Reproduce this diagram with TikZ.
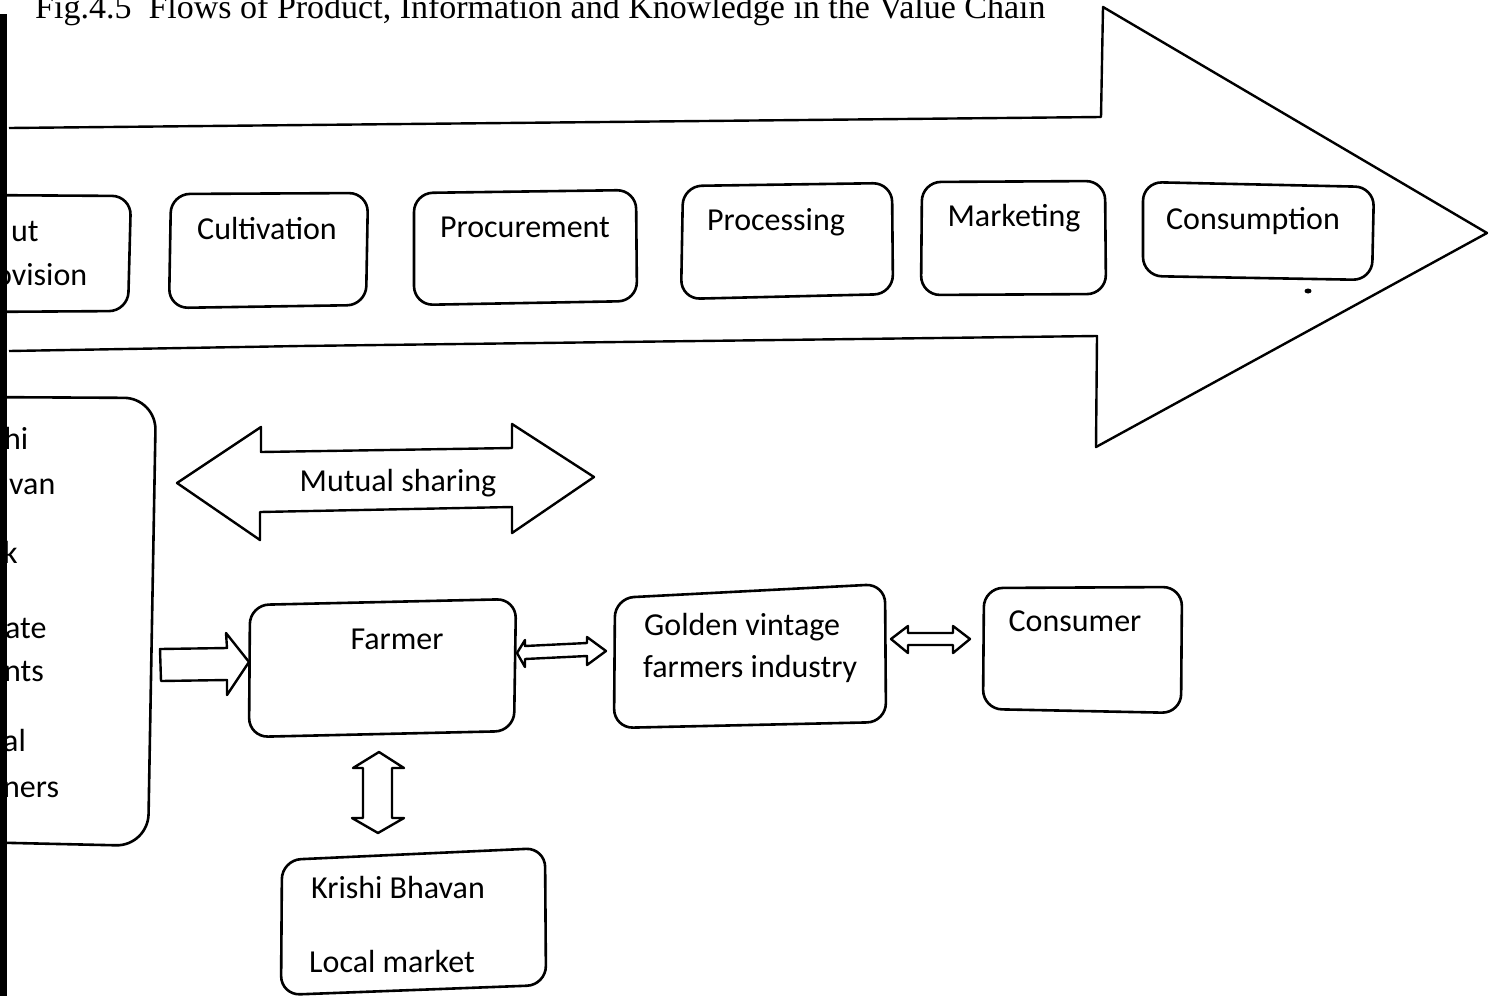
\documentclass[tikz,border=0pt]{standalone}
\usepackage{fontspec}
\setmainfont{Carlito}
\newfontfamily\captionserif{Liberation Serif}
\begin{document}
\begin{tikzpicture}[x=1pt,y=-1pt,line join=round,
  outline/.style={draw,line width=2.4pt},
  boxpath/.style={draw,line width=2.6pt,rounded corners=19pt},
  txt/.style={font=\fontsize{32}{38}\selectfont,inner sep=0pt,anchor=base},
  txtl/.style={txt,anchor=base west}]
\useasboundingbox (0,0) rectangle (1498,996);

% caption (partly outside the page at the top)
\node[inner sep=0pt,anchor=base west,font=\captionserif\fontsize{34}{40}\selectfont] (caption) at (35,18)
  {Fig.4.5\ \ Flows of Product, Information and Knowledge in the Value Chain};

% big value-chain arrow
\draw[outline] (9,128) -- (1101,117) -- (1103,7) -- (1487,233) -- (1096,447)
  -- (1097,336) -- (300,346) -- (9,351);

% stage boxes inside the arrow
\draw[boxpath] (-30,195) -- (131,196) -- (128,311) -- (-30,312);
\draw[boxpath] (171,194) -- (368,193) -- (366,305) -- (169,308) -- cycle;
\draw[boxpath] (414,193) -- (636,190) -- (637,301) -- (414,305) -- cycle;
\draw[boxpath] (683,186) -- (892,183) -- (893,294) -- (681,299) -- cycle;
\draw[boxpath] (922,182) -- (1105,181) -- (1106,294) -- (921,295) -- cycle;
\draw[boxpath] (1143,182) -- (1374,187) -- (1372,280) -- (1143,276) -- cycle;
\fill (1308,291) ellipse (3.5pt and 2.5pt);

\node[txtl] (inp1) at (11,241) {ut};
\node[txtl] (inp2) at (-5,285) {ovision};
\node[txt] (cult) at (267,239) {Cultivation};
\node[txt] (proc) at (525,237) {Procurement};
\node[txt] (prcs) at (776,230) {Processing};
\node[txt] (mkt) at (1014,226) {Marketing};
\node[txt] (cons) at (1253,229) {Consumption};

% sources box on the left
\draw[boxpath,rounded corners=32pt] (-30,397) -- (156,398) -- (148,846) -- (-30,842);
\node[txtl] (s1) at (4,449) {hi};
\node[txtl] (s2) at (9,494) {van};
\node[txtl] (s3) at (3,563) {k};
\node[txtl] (s4) at (5,638) {ate};
\node[txtl] (s5) at (4,681) {nts};
\node[txtl] (s6) at (3,751) {al};
\node[txtl] (s7) at (3,797) {ners};

% mutual sharing double arrow
\draw[outline] (177,483) -- (261,427) -- (261,452) -- (512,448) -- (512,424)
  -- (594,477) -- (512,533) -- (512,507) -- (260,512) -- (260,540) -- cycle;
\node[txt] (share) at (398,491) {Mutual sharing};

% lower chain boxes
\draw[boxpath] (250,605) -- (516,599) -- (514,731) -- (249,737) -- cycle;
\node[txt] (farmer) at (397,649) {Farmer};
\draw[boxpath] (615,598) -- (885,584) -- (886,722) -- (614,728) -- cycle;
\node[txtl] (gold1) at (644,635) {Golden vintage};
\node[txtl] (gold2) at (643,677) {farmers industry};
\draw[boxpath] (984,588) -- (1182,587) -- (1181,713) -- (983,709) -- cycle;
\node[txt] (consumer) at (1075,631) {Consumer};
\draw[boxpath] (282,860) -- (545,848) -- (546,985) -- (281,995) -- cycle;
\node[txtl] (kb) at (311,898) {Krishi Bhavan};
\node[txtl] (lm) at (309,972) {Local market};

% block arrows between the lower boxes
\draw[outline] (160,649) -- (227,648) -- (226,633) -- (249,662) -- (227,695)
  -- (227,680) -- (161,681) -- cycle;
\draw[outline] (517,653) -- (525,640) -- (525,646) -- (587,643) -- (587,637)
  -- (606,651) -- (587,665) -- (587,656) -- (525,659) -- (525,667) -- cycle;
\draw[outline] (891,639) -- (908,626) -- (908,633) -- (953,633) -- (953,626)
  -- (970,639) -- (953,653) -- (953,645) -- (908,645) -- (908,653) -- cycle;
\draw[outline] (379,752) -- (404,768) -- (392,768) -- (392,818) -- (404,818)
  -- (378,833) -- (352,818) -- (363,818) -- (363,768) -- (353,768) -- cycle;

% dark margin strip on the left
\fill (0,14) rectangle (7,996);
\end{tikzpicture}
\end{document}
